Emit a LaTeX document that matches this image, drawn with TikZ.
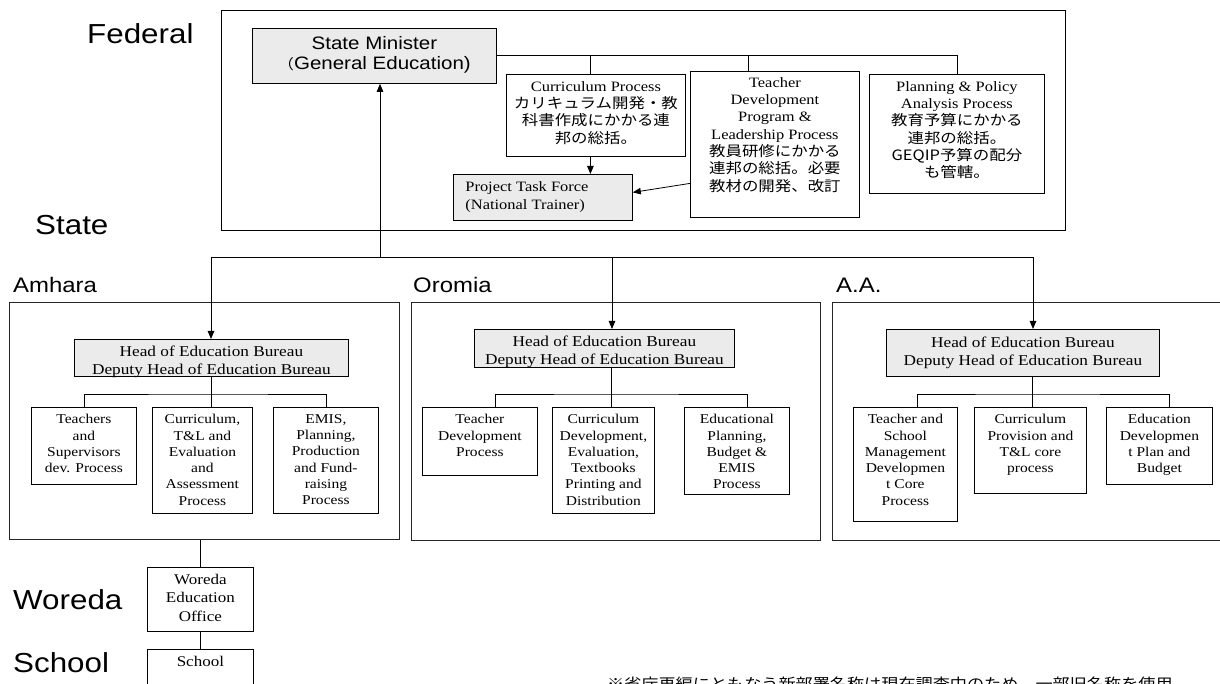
\documentclass[tikz,border=0pt]{standalone}
\usepackage{fontspec}
\setmainfont{Liberation Serif}
\newfontfamily\sansfam[FakeStretch=1.14]{Liberation Sans}
\newfontfamily\serfam[FakeStretch=1.15]{Liberation Serif}
\newfontfamily\jpfam[FakeStretch=1.15]{Noto Sans CJK JP}
\usetikzlibrary{arrows.meta}

% fixed-size text block: width, height, top padding, content
\newcommand\orgtext[4]{\parbox[c][#2pt][t]{#1pt}{\centering\vspace*{#3pt}#4\par}}
\newcommand\fedfont{\serfam\fontsize{14.3}{17.3}\selectfont}
\newcommand\headfont{\serfam\fontsize{15}{18}\selectfont}
\newcommand\subfont{\serfam\fontsize{13.5}{16.3}\selectfont}

\tikzset{
  box/.style={draw=black, line width=0.8pt, inner sep=0pt, anchor=north west},
  gbox/.style={box, fill=black!8},
  region/.style={draw=black!85, line width=1pt, inner sep=0pt, anchor=north west},
  lbl/.style={anchor=west, inner sep=0pt, font=\sansfam},
  link/.style={draw=black, line width=0.8pt},
  arr/.style={link, -{Triangle[length=8pt,width=6.5pt]}}
}

\begin{document}
\begin{tikzpicture}[x=1pt,y=-1pt]
\path[use as bounding box] (0,0) rectangle (1220,684);
\clip (0,0) rectangle (1220,684);

% level labels
\node[lbl] (lfed) at (87,34) {\fontsize{27.5}{30}\selectfont Federal};
\node[lbl] (lstate) at (35,225) {\fontsize{27.5}{30}\selectfont State};
\node[lbl] (lam) at (13,284.5) {\fontsize{21}{24}\selectfont Amhara};
\node[lbl] (lor) at (413,285) {\fontsize{21}{24}\selectfont Oromia};
\node[lbl] (laa) at (836,285) {\fontsize{21}{24}\selectfont A.A.};
\node[lbl] (lwor) at (13,600) {\fontsize{27.5}{30}\selectfont Woreda};
\node[lbl] (lsch) at (13,663) {\fontsize{27.5}{30}\selectfont School};

% federal level
\node[box, minimum width=844pt, minimum height=220pt] (fed) at (221,10) {};
\node[gbox] (sm) at (252,28) {\orgtext{244}{55}{8}{\sansfam\fontsize{18}{20.5}\selectfont State Minister\\{\jpfam\fontsize{14}{20.5}\selectfont （}General Education)}};
\node[box] (curr) at (506,74) {\orgtext{179}{82}{7}{\fedfont Curriculum Process\\\jpfam カリキュラム開発・教\\科書作成にかかる連\\邦の総括。}};
\node[box] (td) at (690,71) {\orgtext{169}{146}{6}{\fedfont Teacher\\Development\\Program \&\\Leadership Process\\\jpfam 教員研修にかかる\\連邦の総括。必要\\教材の開発、改訂}};
\node[box] (plan) at (869,74) {\orgtext{175}{119}{7}{\fedfont Planning \& Policy\\Analysis Process\\\jpfam 教育予算にかかる\\連邦の総括。\\GEQIP予算の配分\\も管轄。}};
\node[gbox] (ptf) at (453,174) {\orgtext{179}{46}{7}{\raggedright\leftskip=12pt\serfam\fontsize{14.3}{18}\selectfont Project Task Force\\(National Trainer)}};

\draw[link] (sm.east) -| (plan.north);
\draw[link] ([xshift=-5.5pt]curr.north) -- ([xshift=-5.5pt]curr.north |- sm.east);
\draw[link] ([xshift=-26.5pt]td.north) -- ([xshift=-26.5pt]td.north |- sm.east);
\draw[arr] ([xshift=-5.5pt]curr.south) -- ([xshift=-5.5pt]curr.south |- ptf.north);
\draw[arr] ([yshift=-39pt]td.west) -- ([yshift=5pt]ptf.east);

% state level
\node[region, minimum width=390pt, minimum height=237pt] (amreg) at (9,302) {};
\node[region, minimum width=409pt, minimum height=238pt] (orreg) at (411,302) {};
\node[region, minimum width=408pt, minimum height=238pt] (aareg) at (832,302) {};

\node[gbox] (amh) at (74,339) {\orgtext{274}{37}{6.5}{\headfont Head of Education Bureau\\Deputy Head of Education Bureau}};
\node[gbox] (orh) at (474,329) {\orgtext{260}{38}{7}{\headfont Head of Education Bureau\\Deputy Head of Education Bureau}};
\node[gbox] (aah) at (886,329) {\orgtext{273}{47}{7.5}{\headfont Head of Education Bureau\\Deputy Head of Education Bureau}};

\coordinate (hub) at (380,257);
\coordinate (jam) at (211,257);
\coordinate (jor) at (612,257);
\coordinate (jaa) at (1033,257);
\draw[link] (jam) -- (jaa);
\draw[arr] (hub) -- (hub |- sm.south);
\draw[arr] (jam) -- (jam |- amh.north);
\draw[arr] (jor) -- (jor |- orh.north);
\draw[arr] (jaa) -- (jaa |- aah.north);

% Amhara processes
\node[box] (am1) at (31,407) {\orgtext{105}{77}{7}{\subfont Teachers\\and\\Supervisors\\dev. Process}};
\node[box] (am2) at (152,407) {\orgtext{100}{106}{7}{\subfont Curriculum,\\T\&L and\\Evaluation\\and\\Assessment\\Process}};
\node[box] (am3) at (273,407) {\orgtext{105}{106}{7}{\subfont EMIS,\\Planning,\\Production\\and Fund-\\raising\\Process}};
\coordinate (ambus) at (211,394);
\draw[link] (amh.south) -- (amh.south |- am2.north);
\draw[link] (am1.north) |- (ambus) -| (am3.north);

% Oromia processes
\node[box] (or1) at (422,407) {\orgtext{115}{68}{7}{\subfont Teacher\\Development\\Process}};
\node[box] (or2) at (552,407) {\orgtext{102}{106}{7}{\subfont Curriculum\\Development,\\Evaluation,\\Textbooks\\Printing and\\Distribution}};
\node[box] (or3) at (684,407) {\orgtext{105}{87}{7}{\subfont Educational\\Planning,\\Budget \&\\EMIS\\Process}};
\coordinate (orbus) at (611,394);
\draw[link] ([xshift=7pt]orh.south) -- ([xshift=7pt]orh.south |- or2.north);
\draw[link] ([xshift=15.5pt]or1.north) |- (orbus) -| ([xshift=10.5pt]or3.north);

% A.A. processes
\node[box] (aa1) at (853,407) {\orgtext{104}{114}{7}{\subfont Teacher and\\School\\Management\\Developmen\\t Core\\Process}};
\node[box] (aa2) at (974,407) {\orgtext{112}{86}{7}{\subfont Curriculum\\Provision and\\T\&L core\\process}};
\node[box] (aa3) at (1106,407) {\orgtext{106}{77}{7}{\subfont Education\\Developmen\\t Plan and\\Budget}};
\coordinate (aabus) at (1032,394);
\draw[link] ([xshift=9.5pt]aah.south) -- ([xshift=9.5pt]aah.south |- aa2.north);
\draw[link] ([xshift=12pt]aa1.north) |- (aabus) -| ([xshift=10pt]aa3.north);

% woreda and school
\node[box] (wor) at (147,567) {\orgtext{106}{64}{7}{\serfam\fontsize{14.8}{18.3}\selectfont Woreda\\Education\\Office}};
\node[box] (sch) at (147,649) {\orgtext{106}{60}{7}{\serfam\fontsize{14.8}{18.3}\selectfont School}};
\draw[link] (wor.north) -- (wor.north |- amreg.south);
\draw[link] (wor.south) -- (sch.north);

% note
\node[anchor=base west, inner sep=0pt] (note) at (607,689) {\jpfam\fontsize{14.9}{18}\selectfont ※省庁再編にともなう新部署名称は現在調査中のため、一部旧名称を使用};
\end{tikzpicture}
\end{document}
